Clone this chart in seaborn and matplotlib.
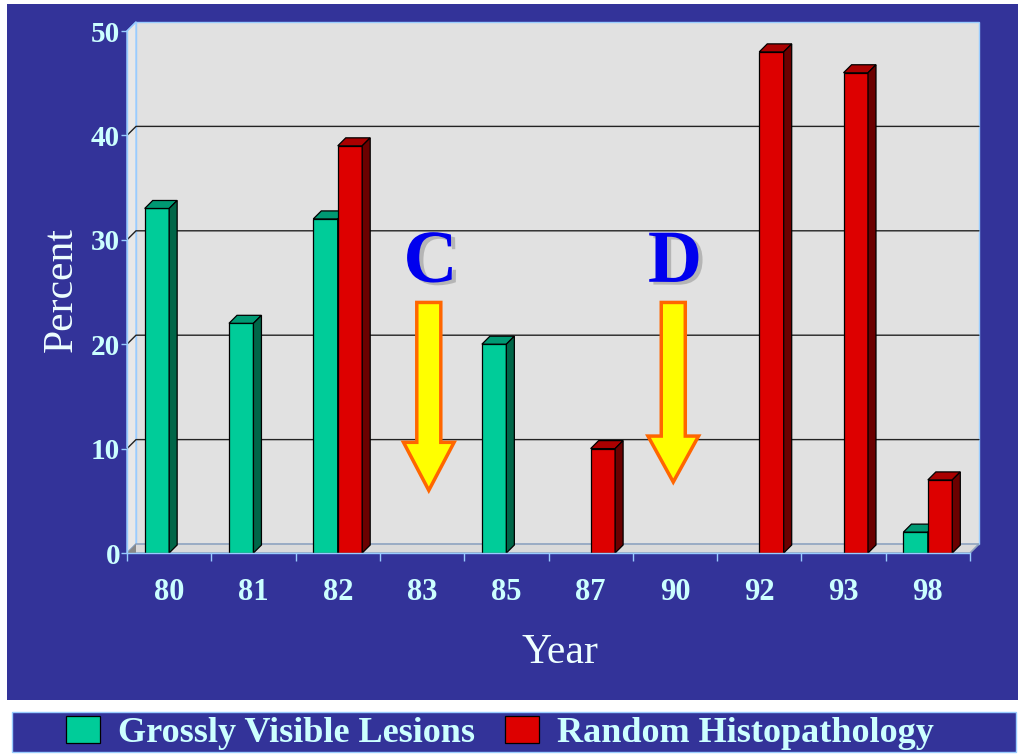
import numpy as np
import pandas as pd
import matplotlib
matplotlib.use("Agg")
import matplotlib.pyplot as plt
import matplotlib.transforms as mtrans
import matplotlib.patheffects as pe
from matplotlib.patches import Rectangle, Polygon, FancyArrow
import seaborn as sns

# ---------------- data ----------------
years = ["80", "81", "82", "83", "85", "87", "90", "92", "93", "98"]
series = ["Grossly Visible Lesions", "Random Histopathology"]
gross_years = ["80", "81", "82", "85", "98"]
gross_values = [33, 22, 32, 20, 2]
random_years = ["82", "87", "92", "93", "98"]
random_values = [39, 10, 48, 46, 7]
y_ticks = [0, 10, 20, 30, 40, 50]
marker_labels = ["C", "D"]
marker_years = ["83", "90"]

df = pd.concat([
    pd.DataFrame({"Year": gross_years, "Percent": gross_values, "Series": series[0]}),
    pd.DataFrame({"Year": random_years, "Percent": random_values, "Series": series[1]}),
], ignore_index=True)

# ---------------- style ----------------
sns.set_style("white")
plt.rcParams["font.family"] = ["Liberation Serif", "DejaVu Serif"]

BLUE = "#333399"
LIGHT = "#CCFFFF"
EDGE_BLUE = "#99CCFF"
WALL = "#E1E1E1"
front_colors = ["#00CC99", "#DD0000"]
top_colors = ["#009973", "#AA0000"]
side_colors = ["#006648", "#6B0000"]

W, H = 1018, 755
fig = plt.figure(figsize=(W / 100, H / 100), dpi=100, facecolor="white")


def fx(px):
    return px / W


def fy(py):
    return 1 - py / H


# background panels
fig.patches.append(Rectangle((fx(7), fy(700)), fx(1018) - fx(7), fy(4) - fy(700),
                             transform=fig.transFigure, facecolor=BLUE,
                             edgecolor="none", zorder=-10))
fig.patches.append(Rectangle((fx(12), fy(752)), fx(1016) - fx(12), fy(712) - fy(752),
                             transform=fig.transFigure, facecolor=BLUE,
                             edgecolor=EDGE_BLUE, linewidth=1, zorder=-10))

ax = fig.add_axes([fx(127), fy(553), (970 - 127) / W, (553 - 31) / H])
ax.set_facecolor("none")

sns.barplot(data=df, x="Year", y="Percent", hue="Series", order=years,
            hue_order=series, palette=front_colors, saturation=1, width=0.58,
            edgecolor="black", linewidth=0.9, errorbar=None, ax=ax)

ax.set_xlim(-0.5, len(years) - 0.5)
ax.set_ylim(0, 50)

ident = mtrans.IdentityTransform()
D = 9   # wall depth in px
d = 8   # bar depth in px

# walls in display coords
(X0, Y0), (X1, Y1) = ax.transAxes.transform([(0, 0), (1, 1)])
back = Polygon([(X0 + D, Y0 + D), (X1 + D, Y0 + D), (X1 + D, Y1 + D), (X0 + D, Y1 + D)],
               closed=True, transform=ident, facecolor=WALL, edgecolor=EDGE_BLUE,
               linewidth=1, zorder=0.1, clip_on=False)
left = Polygon([(X0, Y0), (X0 + D, Y0 + D), (X0 + D, Y1 + D), (X0, Y1)],
               closed=True, transform=ident, facecolor="#E8E8E8", edgecolor=EDGE_BLUE,
               linewidth=1, zorder=0.15, clip_on=False)
floor = Polygon([(X0, Y0), (X1, Y0), (X1 + D, Y0 + D), (X0 + D, Y0 + D)],
                closed=True, transform=ident, facecolor="#DADADA", edgecolor="#8FA3BF",
                linewidth=1.2, zorder=0.2, clip_on=False)
for p in (back, left, floor):
    ax.add_patch(p)
ax.add_patch(Polygon([(X0, Y0), (X0 + D, Y0 + D), (X0 + D, Y0)], closed=True,
                     transform=ident, facecolor="#888888", edgecolor="none",
                     zorder=0.25, clip_on=False))

# gridlines on back wall with diagonals on side wall
for t in y_ticks[1:-1]:
    yd = ax.transData.transform((0, t))[1]
    ax.plot([X0, X0 + D, X1 + D], [yd, yd + D, yd + D], color="#222222",
            linewidth=1, transform=ident, zorder=0.3, clip_on=False)
yd = ax.transData.transform((0, y_ticks[-1]))[1]
ax.plot([X0, X0 + D], [yd, yd + D], color=EDGE_BLUE, linewidth=1,
        transform=ident, zorder=0.3, clip_on=False)

# 3D faces for bars
for i, cont in enumerate(ax.containers):
    for bar in cont:
        h = bar.get_height()
        if not np.isfinite(h) or h <= 0:
            continue
        bar.set_zorder(2 + i)
        bx, bw = bar.get_x(), bar.get_width()
        (a0, b0), (a1, b1) = ax.transData.transform([(bx, 0), (bx + bw, h)])
        top = Polygon([(a0, b1), (a1, b1), (a1 + d, b1 + d), (a0 + d, b1 + d)],
                      closed=True, transform=ident, facecolor=top_colors[i],
                      edgecolor="black", linewidth=0.9, zorder=2 + i, clip_on=False)
        side = Polygon([(a1, b0), (a1 + d, b0 + d), (a1 + d, b1 + d), (a1, b1)],
                       closed=True, transform=ident, facecolor=side_colors[i],
                       edgecolor="black", linewidth=0.9, zorder=2 + i, clip_on=False)
        ax.add_patch(top)
        ax.add_patch(side)

# arrows and letters
arrow_x = [3.08, 5.98]
arrow_top = [24, 24]
arrow_tip = [6.0, 6.8]
head_len = [4.6, 4.4]
for lab, xx, yt, ytip, hl in zip(marker_labels, arrow_x, arrow_top, arrow_tip, head_len):
    ax.add_patch(FancyArrow(xx, yt, 0, ytip - yt, width=0.285, head_width=0.6,
                            head_length=hl, length_includes_head=True,
                            facecolor="#FFFF00", edgecolor="#FF6600",
                            linewidth=2.5, zorder=6))
    ax.text(xx + 0.02, 27.7, lab, ha="center", va="center", fontsize=54,
            fontweight="bold", color="#0000EE", zorder=7,
            path_effects=[pe.SimplePatchShadow(offset=(3, -2), shadow_rgbFace="#999999",
                                               alpha=0.6), pe.Normal()])

# axes styling
ax.set_yticks(y_ticks)
ax.set_yticklabels([str(t) for t in y_ticks], fontsize=21, fontweight="bold", color=LIGHT)
ax.set_xticks(range(len(years)))
ax.set_xticklabels(years, fontsize=22, fontweight="bold", color=LIGHT)
ax.set_xticks(np.arange(-0.5, len(years), 1), minor=True)
ax.tick_params(axis="y", which="major", length=4, width=1, color=EDGE_BLUE, pad=1, left=True)
ax.tick_params(axis="x", which="major", length=0, pad=18)
ax.tick_params(axis="x", which="minor", length=6, width=1, color=EDGE_BLUE, bottom=True)
for s in ["top", "right"]:
    ax.spines[s].set_visible(False)
for s in ["left", "bottom"]:
    ax.spines[s].set_color(EDGE_BLUE)
    ax.spines[s].set_linewidth(1)
    ax.spines[s].set_zorder(5)
ax.set_xlabel("")
ax.set_ylabel("")
ax.grid(False)

fig.text(fx(62), fy(290), "Percent", rotation=90, ha="center", va="center",
         fontsize=30, color="#EEFFFF")
fig.text(fx(560), fy(653), "Year", ha="center", va="center", fontsize=30, color="#EEFFFF")

# legend
sns.move_legend(ax, loc="center left", bbox_to_anchor=(fx(66), fy(733)),
                bbox_transform=fig.transFigure, ncol=2, frameon=False, title=None,
                prop={"family": ["Liberation Serif"], "weight": "bold", "size": 26},
                labelcolor=LIGHT, handlelength=0.94, handleheight=0.78,
                handletextpad=0.5, columnspacing=0.83, borderpad=0, borderaxespad=0)

fig.savefig("out.png", dpi=100, facecolor="white")
